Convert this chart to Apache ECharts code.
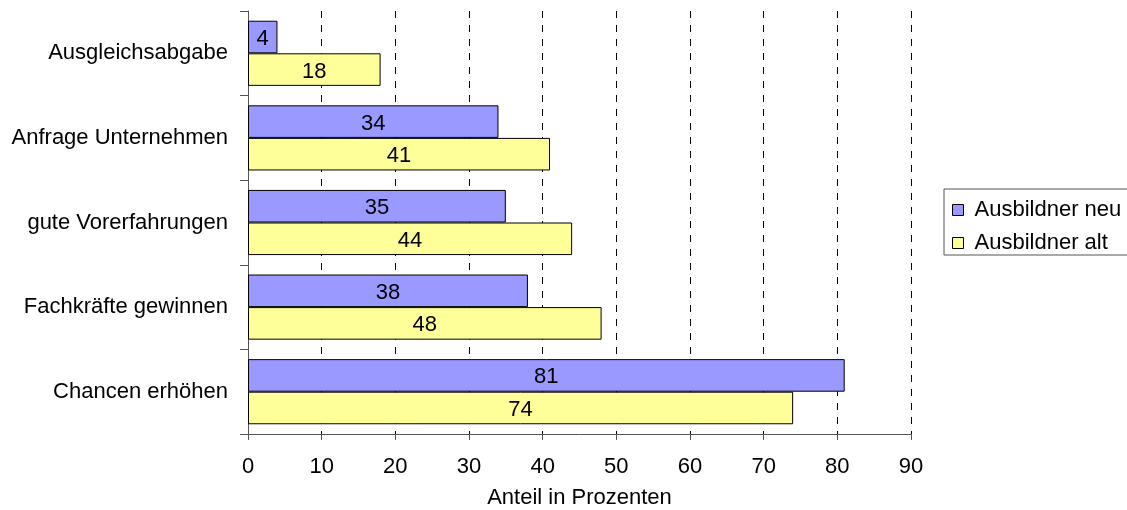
<!DOCTYPE html>
<html>
<head>
<meta charset="utf-8">
<script src="https://cdn.jsdelivr.net/npm/echarts@6/dist/echarts.min.js"></script>
<style>
  html, body { margin: 0; padding: 0; background: #fff; }
  #chart { width: 1127px; height: 510px; }
</style>
</head>
<body>
<div id="chart"></div>
<script>
// Categories listed from top to bottom
const categories = ['Ausgleichsabgabe', 'Anfrage Unternehmen', 'gute Vorerfahrungen', 'Fachkräfte gewinnen', 'Chancen erhöhen'];
const seriesNames = ['Ausbildner neu', 'Ausbildner alt'];
const valuesNeu = [4, 34, 35, 38, 81];
const valuesAlt = [18, 41, 44, 48, 74];
const xTicks = [0, 10, 20, 30, 40, 50, 60, 70, 80, 90];
const colors = ['#9999ff', '#ffff99'];

const font = 'Liberation Sans, Arial, sans-serif';
const fontSize = 22;
const chart = echarts.init(document.getElementById('chart'));

function barSeries(name, data, color) {
  return {
    name: name,
    type: 'bar',
    data: data,
    barGap: '0%',
    barCategoryGap: '23%',
    itemStyle: { color: color, borderColor: '#000', borderWidth: 1 },
    label: {
      show: true,
      position: 'inside',
      offset: [0, 2],
      color: '#000',
      fontFamily: font,
      fontSize: fontSize
    }
  };
}

chart.setOption({
  animation: false,
  backgroundColor: '#fff',
  grid: { left: 248, right: 216, top: 11, bottom: 76, containLabel: false, outerBoundsMode: 'none' },
  legend: {
    orient: 'vertical',
    left: 944,
    top: 189,
    data: seriesNames,
    icon: 'rect',
    itemWidth: 11,
    itemHeight: 11,
    itemGap: 11,
    padding: [10, 8, 1, 8],
    borderColor: '#555',
    borderWidth: 1,
    borderRadius: 0,
    itemStyle: { borderColor: '#000', borderWidth: 1 },
    textStyle: { fontFamily: font, fontSize: fontSize, color: '#000', padding: [0, 0, 0, 6] }
  },
  xAxis: {
    type: 'value',
    min: xTicks[0],
    max: xTicks[xTicks.length - 1],
    interval: 10,
    name: 'Anteil in Prozenten',
    nameLocation: 'middle',
    nameGap: 53,
    nameTextStyle: { fontFamily: font, fontSize: fontSize, color: '#000' },
    axisLine: { show: true, lineStyle: { color: '#555', width: 1 } },
    axisTick: { show: true, length: 6, lineStyle: { color: '#555' } },
    axisLabel: { fontFamily: font, fontSize: fontSize, color: '#000', margin: 22 },
    splitLine: { show: true, lineStyle: { color: '#000', type: [7, 7], width: 1 } }
  },
  yAxis: {
    type: 'category',
    inverse: true,
    data: categories,
    axisLine: { show: true, lineStyle: { color: '#555', width: 1 } },
    axisTick: { show: true, length: 8, lineStyle: { color: '#555' } },
    axisLabel: { fontFamily: font, fontSize: fontSize, color: '#000', margin: 20, padding: [7, 0, 0, 0] }
  },
  series: [
    barSeries(seriesNames[0], valuesNeu, colors[0]),
    barSeries(seriesNames[1], valuesAlt, colors[1])
  ]
});
</script>
</body>
</html>
